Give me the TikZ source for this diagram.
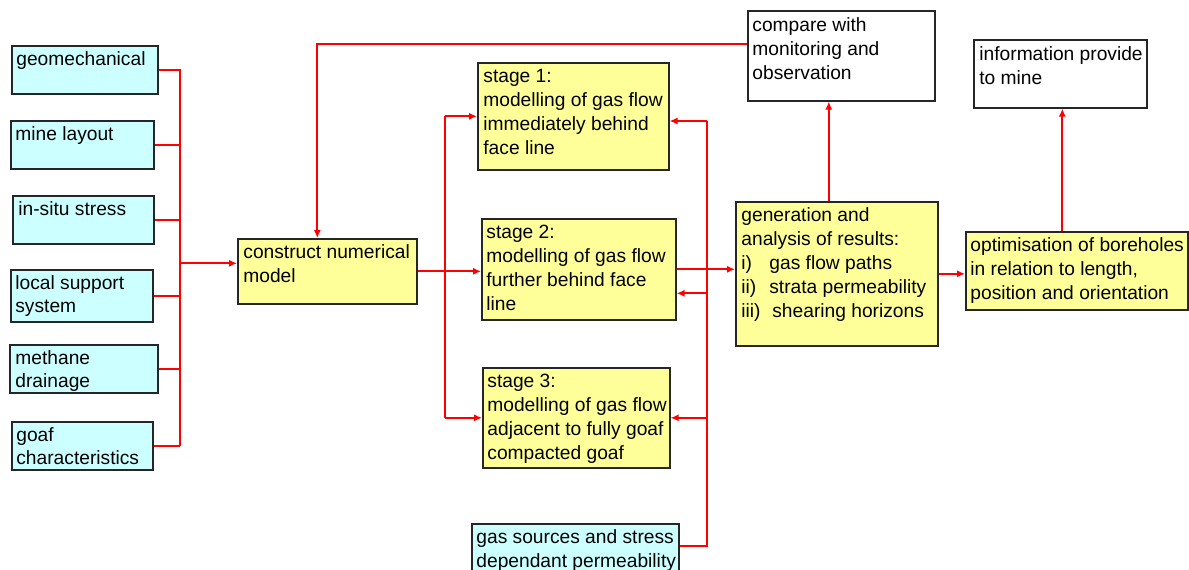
\documentclass[tikz,border=0pt]{standalone}
\usepackage{fontspec}
\setmainfont{Liberation Sans}
\usepackage{tikz}
\usetikzlibrary{arrows.meta,positioning,calc}
\definecolor{inputcyan}{RGB}{204, 255, 255}
\definecolor{stageyellow}{RGB}{255, 255, 153}
\definecolor{flowred}{RGB}{255, 0, 0}
\tikzset{
    inputbox/.style={draw=black!85, line width=0.8pt, fill=inputcyan, anchor=north west, inner sep=0pt},
    stagebox/.style={inputbox, fill=stageyellow},
    plainbox/.style={inputbox, fill=white},
    boxtext/.style={anchor=north west, align=left, inner sep=0pt,
        font=\fontsize{9.6pt}{12pt}\selectfont},
    inputtext/.style={boxtext, font=\fontsize{9.6pt}{11.4pt}\selectfont},
    link/.style={flowred, line width=1pt},
    flow/.style={link, -{Latex[length=4pt,width=3.6pt]}}
}

\begin{document}
\begin{tikzpicture}[x=0.5pt, y=-0.5pt]
    \useasboundingbox (0,0) rectangle (1189,569);

    % Input boxes on the left
    \node[inputbox, minimum width=73pt, minimum height=24pt] (geo) at (11,45) {};
    \node[inputtext] (geo-t) at ([shift={(5,6)}]geo.north west) {geomechanical};

    \node[inputbox, minimum width=71.5pt, minimum height=24pt] (layout) at (10,120) {};
    \node[inputtext] (layout-t) at ([shift={(5,6)}]layout.north west) {mine layout};

    \node[inputbox, minimum width=70.5pt, minimum height=24pt] (stress) at (12,195) {};
    \node[inputtext] (stress-t) at ([shift={(6,6)}]stress.north west) {in-situ stress};

    \node[inputbox, minimum width=71pt, minimum height=26pt] (support) at (10,269) {};
    \node[inputtext] (support-t) at ([shift={(5,6)}]support.north west) {local support\\system};

    \node[inputbox, minimum width=74pt, minimum height=24pt] (drainage) at (9,344) {};
    \node[inputtext] (drainage-t) at ([shift={(6,6)}]drainage.north west) {methane\\drainage};

    \node[inputbox, minimum width=70.5pt, minimum height=24pt] (goaf) at (11,421) {};
    \node[inputtext] (goaf-t) at ([shift={(5,6)}]goaf.north west) {goaf\\characteristics};

    % Numerical model
    \node[stagebox, minimum width=89.5pt, minimum height=32.5pt] (model) at (237,238) {};
    \node[boxtext] (model-t) at ([shift={(6,6)}]model.north west) {construct numerical\\model};

    % Modelling stages
    \node[stagebox, minimum width=95.5pt, minimum height=53.5pt] (stage1) at (477,62) {};
    \node[boxtext] (stage1-t) at ([shift={(6,7)}]stage1.north west)
        {stage 1:\\modelling of gas flow\\immediately behind\\face line};

    \node[stagebox, minimum width=97pt, minimum height=50.5pt] (stage2) at (481,218) {};
    \node[boxtext] (stage2-t) at ([shift={(5,7)}]stage2.north west)
        {stage 2:\\modelling of gas flow\\further behind face\\line};

    \node[stagebox, minimum width=93.5pt, minimum height=50pt] (stage3) at (482,367) {};
    \node[boxtext] (stage3-t) at ([shift={(5,7)}]stage3.north west)
        {stage 3:\\modelling of gas flow\\adjacent to fully goaf\\compacted goaf};

    % Gas sources (runs off the bottom edge)
    \node[inputbox, minimum width=103.5pt, minimum height=24pt] (sources) at (471,523) {};
    \node[boxtext] (sources-t) at ([shift={(5,6)}]sources.north west)
        {gas sources and stress\\dependant permeability};

    % Results and outputs
    \node[stagebox, minimum width=101pt, minimum height=72pt] (results) at (735,201) {};
    \node[boxtext] (results-t) at ([shift={(6,6)}]results.north west)
        {generation and\\analysis of results:\\
         \makebox[14pt][l]{i)}gas flow paths\\
         \makebox[14pt][l]{ii)}strata permeability\\
         \makebox[15.5pt][l]{iii)}shearing horizons};

    \node[plainbox, minimum width=93.5pt, minimum height=45pt] (compare) at (747,10) {};
    \node[boxtext] (compare-t) at ([shift={(5,7)}]compare.north west)
        {compare with\\monitoring and\\observation};

    \node[stagebox, minimum width=111pt, minimum height=39pt] (optimise) at (965,231) {};
    \node[boxtext] (optimise-t) at ([shift={(5,6)}]optimise.north west)
        {optimisation of boreholes\\in relation to length,\\position and orientation};

    \node[plainbox, minimum width=86.5pt, minimum height=34pt] (inform) at (973,39) {};
    \node[boxtext] (inform-t) at ([shift={(6,7)}]inform.north west)
        {information provide\\to mine};

    % Connector ends
    \coordinate (bus) at (180,69);
    \coordinate (split) at (445,115);
    \coordinate (feed) at (707,121);
    \coordinate (model-in) at ([yshift=4pt]model.west);
    \coordinate (model-top) at ([xshift=-5pt]model.north);
    \coordinate (stage2-back) at ([yshift=-12pt]stage2.east);
    \coordinate (sources-out) at ([yshift=1pt]sources.east);
    \coordinate (results-up) at ([xshift=-4pt]results.north);
    \coordinate (inform-in) at ([xshift=1pt]inform.south);
    \coordinate (compare-out) at ([yshift=6pt]compare.west);

    % Collector bus for the inputs
    \draw[link] (bus) -- (bus |- goaf.east);
    \foreach \n in {geo,layout,stress,support,drainage,goaf}
        \draw[link] (\n.east) -- (\n.east -| bus);
    \draw[flow] (bus |- model-in) -- (model-in);

    % Model to the three stages
    \draw[flow] (model.east) -- (model.east -| stage2.west);
    \draw[link] (split |- stage1.west) -- (split |- stage3.west);
    \draw[flow] (split |- stage1.west) -- (stage1.west);
    \draw[flow] (split |- stage3.west) -- (stage3.west);

    % Gas sources feed back into the stages
    \draw[link] (feed) -- (feed |- sources-out) -- (sources-out);
    \draw[flow] (feed) -- (feed -| stage1.east);
    \draw[flow] (feed |- stage2-back) -- (stage2-back);
    \draw[flow] (feed |- stage3.east) -- (stage3.east);

    % Results
    \draw[flow] (stage2.east) -- (stage2.east -| results.west);
    \draw[flow] (results.east) -- (results.east -| optimise.west);
    \draw[flow] (results-up) -- (results-up |- compare.south);
    \draw[flow] (inform-in |- optimise.north) -- (inform-in);

    % Comparison loops back to the model
    \draw[flow] (compare-out) -| (model-top);
\end{tikzpicture}
\end{document}
